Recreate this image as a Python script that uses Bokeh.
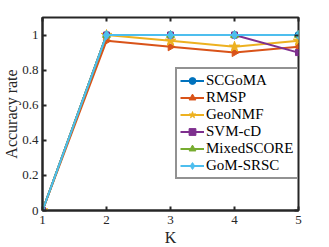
import math
from bokeh.plotting import figure
from bokeh.models import LinearAxis, FixedTicker, Range1d, Legend, CustomJSTickFormatter, AllLabels, Title
from bokeh.embed import file_html
from bokeh.resources import INLINE

K = [1, 2, 3, 4, 5]
methods = ["SCGoMA", "RMSP", "GeoNMF", "SVM-cD", "MixedSCORE", "GoM-SRSC"]
scgoma = [0, 1.0, 1.0, 1.0, 1.0]
rmsp = [0, 0.967, 0.933, 0.9, 0.933]
geonmf = [0, 1.0, 0.967, 0.933, 0.967]
svmcd = [0, 1.0, 1.0, 1.0, 0.9]
mixedscore = [0, 1.0, 1.0, 1.0, 1.0]
gomsrsc = [0, 1.0, 1.0, 1.0, 1.0]
y_ticks = [0, 0.2, 0.4, 0.6, 0.8, 1.0]
y_tick_labels = ["0", "0.2", "0.4", "0.6", "0.8", "1"]
x_ticks = [1, 2, 3, 4, 5]

series = [scgoma, rmsp, geonmf, svmcd, mixedscore, gomsrsc]
colors = ["#0072BD", "#D95319", "#EDB120", "#7E2F8E", "#77AC30", "#4DBEEE"]
markers = [("circle", 7, 0), ("triangle", 8, -math.pi / 2), ("star", 11, 0),
           ("square", 6, 0), ("triangle", 8, 0), ("diamond", 9, 0)]

FONT = "Liberation Serif"
DARK = "#262626"

p = figure(output_backend="svg", toolbar_location=None,
           x_range=Range1d(1, 5), y_range=Range1d(0, 1.1),
           frame_width=256, frame_height=193,
           min_border_left=34, min_border_right=15, min_border_top=17, min_border_bottom=29)
p.xgrid.visible = False
p.ygrid.visible = False
p.outline_line_color = DARK
p.outline_line_width = 2
p.background_fill_color = "white"
p.border_fill_color = "white"

items = []
for name, ys, c, (m, s, a) in zip(methods, series, colors, markers):
    r1 = p.line(K, ys, line_color=c, line_width=2)
    r2 = p.scatter(K, ys, marker=m, size=s, angle=a, fill_color=c, line_color=c)
    items.append((name, [r1, r2]))

for ax in p.xaxis + p.yaxis:
    ax.axis_line_width = 2
    ax.axis_line_color = DARK
    ax.major_tick_in = 4
    ax.major_tick_out = 0
    ax.major_tick_line_width = 2
    ax.major_tick_line_color = DARK
    ax.minor_tick_line_color = None
    ax.major_label_text_font = FONT
    ax.major_label_text_font_size = "13px"
    ax.major_label_text_color = DARK
    ax.major_label_policy = AllLabels()
    ax.axis_label_text_font = FONT
    ax.axis_label_text_font_size = "16px"
    ax.axis_label_text_font_style = "normal"
    ax.axis_label_text_color = DARK

p.xaxis.ticker = FixedTicker(ticks=x_ticks)
p.yaxis.ticker = FixedTicker(ticks=y_ticks)
p.yaxis.formatter = CustomJSTickFormatter(
    args=dict(tvals=y_ticks, tlabels=y_tick_labels),
    code="""
    let best = 0;
    for (let i = 0; i < tvals.length; i++) {
        if (Math.abs(tvals[i] - tick) < Math.abs(tvals[best] - tick)) best = i;
    }
    return tlabels[best];
    """)
p.xaxis.axis_label = "K"
p.xaxis.major_label_standoff = 5
p.yaxis.major_label_standoff = 4
p.xaxis.axis_label_standoff = 2

ytitle = Title(text="Accuracy rate", align="center", text_font=FONT,
               text_font_size="16px", text_font_style="normal",
               text_color=DARK, standoff=0, offset=0)
p.add_layout(ytitle, "left")

blank = CustomJSTickFormatter(code="return '';")
top = LinearAxis(ticker=FixedTicker(ticks=x_ticks), formatter=blank,
                 major_label_text_font_size="1px",
                 major_tick_in=4, major_tick_out=0, major_tick_line_width=2,
                 major_tick_line_color=DARK, axis_line_color=None,
                 minor_tick_line_color=None, major_label_standoff=0)
right = LinearAxis(ticker=FixedTicker(ticks=y_ticks), formatter=blank,
                   major_label_text_font_size="1px",
                   major_tick_in=4, major_tick_out=0, major_tick_line_width=2,
                   major_tick_line_color=DARK, axis_line_color=None,
                   minor_tick_line_color=None, major_label_standoff=0)
p.add_layout(top, "above")
p.add_layout(right, "right")

legend = Legend(items=items, location=(133, 31))
legend.label_text_font = FONT
legend.label_text_font_size = "15px"
legend.label_text_color = "black"
legend.border_line_color = DARK
legend.border_line_width = 2
legend.padding = 3
legend.spacing = 0
legend.margin = 0
legend.label_height = 17
legend.glyph_height = 17
legend.glyph_width = 24
legend.label_standoff = 2
legend.background_fill_alpha = 1
p.add_layout(legend, "center")

open("out.html", "w").write(file_html(p, INLINE))
